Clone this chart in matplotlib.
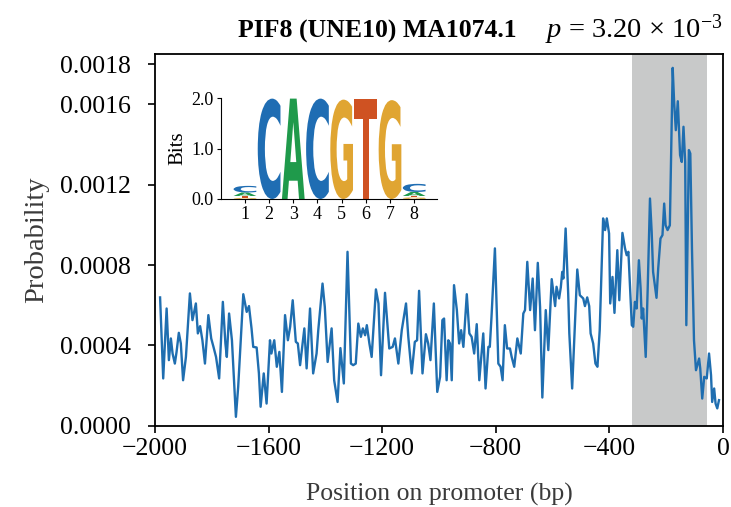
import numpy as np
import matplotlib; matplotlib.use("Agg")
import matplotlib.pyplot as plt
from matplotlib.textpath import TextPath
from matplotlib.patches import PathPatch
from matplotlib.font_manager import FontProperties
from matplotlib.transforms import Affine2D

plt.rcParams["font.family"] = "Liberation Serif"
plt.rcParams["mathtext.fontset"] = "custom"
plt.rcParams["mathtext.rm"] = "Liberation Serif"
plt.rcParams["mathtext.it"] = "Liberation Serif:italic"

# binding probability along promoter (bp upstream of TSS)
pos = [-1982, -1971, -1959, -1951, -1944, -1938, -1930, -1924, -1916, -1909,
       -1901, -1891, -1877, -1868, -1856, -1849, -1841, -1833, -1824, -1812,
       -1802, -1794, -1785, -1774, -1761, -1752, -1747, -1739, -1729, -1715,
       -1707, -1689, -1677, -1669, -1660, -1654, -1642, -1634, -1628, -1617,
       -1607, -1595, -1590, -1580, -1571, -1562, -1553, -1542, -1532, -1524,
       -1515, -1504, -1497, -1489, -1474, -1466, -1454, -1443, -1431, -1425,
       -1410, -1402, -1392, -1378, -1369, -1357, -1347, -1335, -1322, -1310,
       -1302, -1293, -1284, -1275, -1268, -1260, -1254, -1245, -1237, -1222,
       -1213, -1204, -1190, -1175, -1163, -1155, -1143, -1131, -1116, -1108,
       -1096, -1085, -1077, -1070, -1058, -1046, -1038, -1030, -1018, -1006,
       -996, -988, -982, -973, -967, -961, -955, -947, -937, -929,
       -922, -914, -902, -893, -885, -876, -867, -858, -844, -836,
       -826, -821, -815, -803, -791, -783, -776, -768, -760, -750,
       -744, -735, -724, -712, -703, -697, -689, -679, -670, -662,
       -652, -644, -636, -624, -615, -603, -591, -586, -577, -571,
       -566, -562, -554, -545, -541, -531, -513, -504, -492, -486,
       -478, -471, -466, -457, -449, -442, -434, -422, -415, -409,
       -401, -397, -389, -382, -372, -365, -354, -345, -339, -333,
       -327, -321, -316, -310, -304, -296, -290, -286, -281, -272,
       -265, -257, -251, -246, -240, -234, -228, -220, -213, -207,
       -202, -195, -187, -177, -172, -166, -159, -151, -145, -139,
       -133, -129, -120, -115, -109, -102, -95, -84, -80, -73,
       -66, -57, -49, -42, -38, -31, -26, -20, -14]
prob = [0.000639, 0.000236, 0.000584, 0.000327, 0.000435, 0.000360, 0.000310, 0.000368, 0.000463, 0.000410,
        0.000227, 0.000343, 0.000659, 0.000526, 0.000609, 0.000460, 0.000496, 0.000426, 0.000310, 0.000551,
        0.000435, 0.000393, 0.000343, 0.000236, 0.000617, 0.000410, 0.000343, 0.000559, 0.000426, 0.000045,
        0.000194, 0.000655, 0.000567, 0.000596, 0.000485, 0.000393, 0.000390, 0.000261, 0.000095, 0.000261,
        0.000111, 0.000426, 0.000360, 0.000426, 0.000294, 0.000368, 0.000169, 0.000551, 0.000426, 0.000493,
        0.000625, 0.000418, 0.000410, 0.000302, 0.000485, 0.000286, 0.000584, 0.000261, 0.000360, 0.000476,
        0.000708, 0.000592, 0.000318, 0.000485, 0.000227, 0.000119, 0.000387, 0.000211, 0.000866, 0.000310,
        0.000302, 0.000310, 0.000509, 0.000443, 0.000485, 0.000451, 0.000501, 0.000410, 0.000343, 0.000679,
        0.000609, 0.000252, 0.000662, 0.000385, 0.000393, 0.000435, 0.000310, 0.000476, 0.000609, 0.000443,
        0.000261, 0.000418, 0.000426, 0.000672, 0.000261, 0.000456, 0.000410, 0.000327, 0.000609, 0.000169,
        0.000244, 0.000526, 0.000534, 0.000227, 0.000426, 0.000410, 0.000227, 0.000700, 0.000576, 0.000410,
        0.000476, 0.000393, 0.000655, 0.000460, 0.000443, 0.000360, 0.000506, 0.000227, 0.000460, 0.000186,
        0.000393, 0.000393, 0.000542, 0.000883, 0.000310, 0.000294, 0.000227, 0.000501, 0.000385, 0.000385,
        0.000343, 0.000294, 0.000435, 0.000360, 0.000559, 0.000576, 0.000816, 0.000576, 0.000733, 0.000476,
        0.000811, 0.000592, 0.000141, 0.000576, 0.000377, 0.000730, 0.000596, 0.000692, 0.000634, 0.000689,
        0.000766, 0.000733, 0.000982, 0.000659, 0.000460, 0.000186, 0.000778, 0.000650, 0.000634, 0.000596,
        0.000639, 0.000596, 0.000460, 0.000410, 0.000310, 0.000294, 0.000476, 0.001032, 0.000974, 0.001032,
        0.000957, 0.000609, 0.000741, 0.000562, 0.000874, 0.000625, 0.000960, 0.000884, 0.000849, 0.000866,
        0.000684, 0.000501, 0.000493, 0.000617, 0.000584, 0.000824, 0.000684, 0.000534, 0.000584, 0.000343,
        0.000684, 0.001131, 0.000965, 0.000766, 0.000700, 0.000637, 0.000783, 0.000932, 0.000949, 0.001106,
        0.000998, 0.000974, 0.000998, 0.001781, 0.001612, 0.001471, 0.001615, 0.001347, 0.001313, 0.001488,
        0.001313, 0.000501, 0.001372, 0.001355, 0.000874, 0.000426, 0.000277, 0.000335, 0.000286, 0.000136,
        0.000244, 0.000236, 0.000360, 0.000252, 0.000119, 0.000186, 0.000111, 0.000087, 0.000128]
span = (-320, -55)
xticks = [-2000, -1600, -1200, -800, -400, 0]
yticks = [0.0, 0.0004, 0.0008, 0.0012, 0.0016, 0.0018]

# motif logo (information content per base, bits)
logo_x = [1, 2, 3, 4, 5, 6, 7, 8]
bits_A = [0.07, 0.0, 1.99, 0.0, 0.0, 0.0, 0.0, 0.08]
bits_C = [0.13, 1.99, 0.0, 1.99, 0.0, 0.0, 0.0, 0.16]
bits_G = [0.02, 0.0, 0.0, 0.0, 1.97, 0.0, 1.96, 0.03]
bits_T = [0.04, 0.0, 0.0, 0.0, 0.0, 1.98, 0.0, 0.03]
base_col = {"A": "#1f9a4b", "C": "#1f6db3", "G": "#e0a532", "T": "#cf5222"}

fig = plt.figure(figsize=(7.31, 5.07), dpi=100)
ax = fig.add_axes([0.212, 0.160, 0.777, 0.7335])
ax.axvspan(*span, color="#c8c9c9", lw=0)
ax.plot(pos, prob, color="#1f6eb0", lw=1.7)
ax.set_xlim(-2000, 0)
ax.set_ylim(0, 0.00185)
ax.set_xticks(xticks)
ax.set_yticks(yticks)
ax.set_yticklabels(["%.4f" % v for v in yticks])
ax.tick_params(labelsize=18.5, width=1.2, length=5)
ax.tick_params(axis="y", pad=12)
for s in ax.spines.values():
    s.set_linewidth(1.3)
ax.set_xlabel("Position on promoter (bp)", fontsize=18.5, color="#3a3a3a", labelpad=17)
ax.set_ylabel("Probability", fontsize=20.5, color="#3a3a3a", labelpad=8)
ax.text(0.146, 1.045, "PIF8 (UNE10) MA1074.1", transform=ax.transAxes,
        fontsize=18.5, weight="bold", va="baseline", ha="left")
ax.text(1.0, 1.045, r"$p$ = 3.20 × 10$^{-3}$", transform=ax.transAxes,
        fontsize=20.5, va="baseline", ha="right")

# inset logo
ia = fig.add_axes([0.302, 0.6075, 0.296, 0.199])
fp = FontProperties(family="DejaVu Sans", weight="bold")
for i, x in enumerate(logo_x):
    stack = sorted([(bits_A[i], "A"), (bits_C[i], "C"), (bits_G[i], "G"), (bits_T[i], "T")])
    y0 = 0.0
    for h, ch in stack:
        if h <= 0:
            continue
        tp = TextPath((0, 0), ch, size=1, prop=fp)
        bb = tp.get_extents()
        w = 0.94
        t = Affine2D().translate(-bb.x0, -bb.y0).scale(w / bb.width, h / bb.height).translate(x - w / 2, y0)
        ia.add_patch(PathPatch(t.transform_path(tp), fc=base_col[ch], ec="none"))
        y0 += h
ia.set_xlim(0, 8.95)
ia.set_ylim(0, 2.0)
ia.set_xticks(logo_x)
ia.set_yticks([0.0, 1.0, 2.0])
ia.set_yticklabels(["0.0", "1.0", "2.0"])
ia.tick_params(labelsize=13, length=3, pad=2)
ia.spines["top"].set_visible(False)
ia.spines["right"].set_visible(False)
ia.set_ylabel("Bits", fontsize=15, labelpad=3)
ia.patch.set_alpha(0)

fig.savefig("out.png", dpi=100)
